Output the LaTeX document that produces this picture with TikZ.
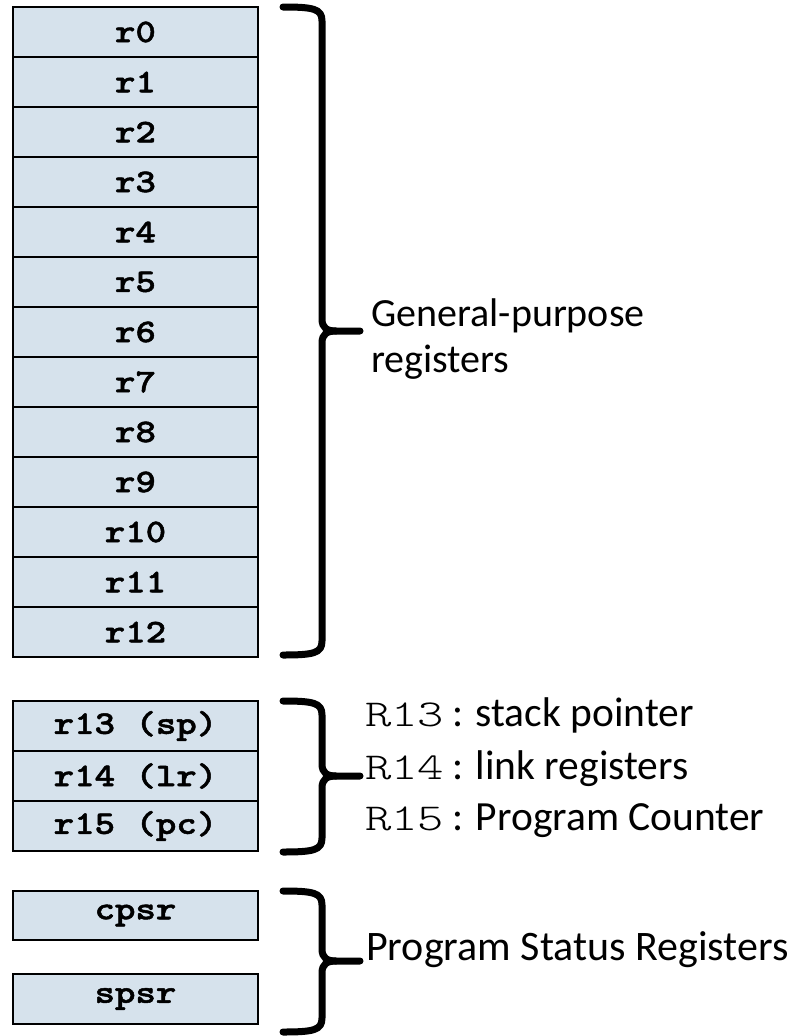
\documentclass[tikz,border=0pt]{standalone}
\usepackage{fontspec}
\setmainfont{Carlito}
\newfontfamily\regfont{lmmonolt10-bold}[Extension=.otf, FakeStretch=1.18, FakeBold=1.5]
\newfontfamily\rmono{lmmonolt10-regular}[Extension=.otf, FakeStretch=1.32]
\definecolor{regfill}{RGB}{214,226,236}
\newcommand\drawbrace[3]{%
  \draw[brace] (283,#1) .. controls (314,#1) and (322,#1+2) .. (322,#1+14)
     -- (322,#2-12) .. controls (322,#2-3) and (327,#2) .. (336,#2) -- (360,#2);
  \draw[brace] (336,#2) .. controls (327,#2) and (322,#2+3) .. (322,#2+12)
     -- (322,#3-14) .. controls (322,#3-2) and (314,#3) .. (283,#3);}
\begin{document}
\begin{tikzpicture}[x=1pt,y=-1pt,
  reg/.style={draw=black, line width=2pt, fill=regfill, minimum width=245pt,
    minimum height=50pt, inner sep=0pt,
    font=\regfont\fontsize{33}{40}\selectfont},
  brace/.style={line width=7pt, line cap=round, line join=round},
  note/.style={inner sep=0pt, align=left, font=\fontsize{40}{46}\selectfont},
  rline/.style={inner sep=0pt, anchor=base west, font=\fontsize{41.5}{48}\selectfont}]
\useasboundingbox (0,0) rectangle (800,1036);
\foreach \i in {0,...,12}
  \node[reg] (r\i) at (135.5,32+50*\i) {r\i};
\node[reg] (r13) at (135.5,726) {r13 (sp)};
\node[reg] (r14) at (135.5,776) {r14 (lr)};
\node[reg] (r15) at (135.5,826) {r15 (pc)};
\node[reg, minimum height=49pt] (cpsr) at (135.5,915.5) {cpsr};
\node[reg] (spsr) at (135.5,999) {spsr};
\drawbrace{7}{331}{655}
\drawbrace{701}{776}{852}
\drawbrace{891}{961}{1032}
\node[note, anchor=west] (gp) at (371,339) {General-purpose\\registers};
\node[rline] (l13) at (365,726) {{\rmono\fontsize{38}{40}\selectfont R13}\kern8pt: stack pointer};
\node[rline] (l14) at (365,779) {{\rmono\fontsize{38}{40}\selectfont R14}\kern8pt: link registers};
\node[rline] (l15) at (365,830) {{\rmono\fontsize{38}{40}\selectfont R15}\kern8pt: Program Counter};
\node[note, anchor=base west, font=\fontsize{42}{48}\selectfont] (psr) at (366,960) {Program Status Registers};
\end{tikzpicture}
\end{document}
